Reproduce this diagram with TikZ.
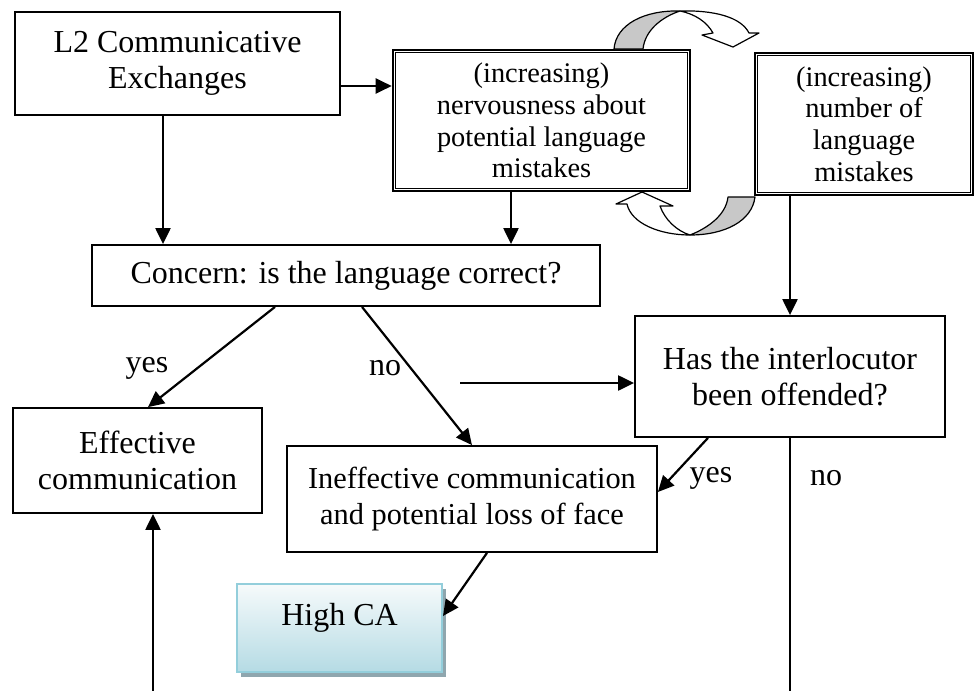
\documentclass[tikz,border=0pt]{standalone}
\usepackage{fontspec}
\setmainfont{Liberation Serif}
\usetikzlibrary{arrows.meta,shadows}
\definecolor{cgray}{HTML}{C8C8C8}
\definecolor{caTop}{HTML}{F6FAFB}
\definecolor{caBot}{HTML}{B5DBE4}
\definecolor{caEdge}{HTML}{93CEDB}
\definecolor{caShadow}{HTML}{8FA6AE}

\begin{document}
\begin{tikzpicture}[x=0.5pt,y=-0.5pt,
  big/.style={font=\fontsize{16}{18.3}\selectfont},
  mid/.style={font=\fontsize{15.2}{18.3}\selectfont},
  small/.style={font=\fontsize{14.2}{15.9}\selectfont},
  box/.style={draw, line width=0.9pt, align=center, inner sep=0pt, big},
  dblbox/.style={draw, line width=1.3pt, align=center, inner sep=0pt, small},
  innerline/.style={line width=0.5pt},
  arr/.style={line width=1.1pt, -{Triangle[length=8pt,width=7.5pt]}},
  plain/.style={line width=1.1pt},
  carrow/.style={line width=0.6pt, line join=round},
  lab/.style={big, inner sep=0pt},
  hcabox/.style={draw=caEdge, line width=1pt, top color=caTop, bottom color=caBot,
    drop shadow={shadow xshift=1.8pt, shadow yshift=-2.4pt, fill=caShadow, opacity=1},
    big, inner sep=0pt, text height=20.5pt, text depth=23.5pt}
]
\useasboundingbox (0,0) rectangle (976,691);

% boxes
\node[box, minimum width=162.5pt, minimum height=51.5pt] (l2) at (177.5,63.5)
  {L2 Communicative\\Exchanges};
\node[dblbox, minimum width=148.5pt, minimum height=70.5pt] (nerv) at (541.5,120.5)
  {(increasing)\\nervousness about\\potential language\\mistakes};
\node[dblbox, minimum width=109pt, minimum height=71pt] (num) at (864,124)
  {(increasing)\\number of\\language\\mistakes};
\foreach \n in {nerv,num}
  \draw[innerline] ([shift={(2.1pt,-2.1pt)}]\n.north west) rectangle ([shift={(-2.1pt,2.1pt)}]\n.south east);

\node[box, minimum width=254pt, minimum height=30.5pt] (con) at (346,275.5)
  {Concern: is the language correct?};
\node[box, minimum width=155pt, minimum height=60.5pt] (has) at (790,376.5)
  {Has the interlocutor\\been offended?};
\node[box, minimum width=124.5pt, minimum height=52.5pt] (eff) at (137.5,460.5)
  {Effective\\communication};
\node[box, mid, minimum width=185pt, minimum height=53pt] (ineff) at (472,499)
  {Ineffective communication\\and potential loss of face};
\node[hcabox, minimum width=102.5pt, minimum height=44pt] (hca) at (339.5,628) {High CA};

% branch labels
\node[lab] (y1) at (147,368) {yes};
\node[lab] (n1) at (385,368) {no};
\node[lab] (y2) at (711,478) {yes};
\node[lab] (n2) at (826,478) {no};

% free ends
\coordinate (h0) at (460,383);
\coordinate (b0) at (153,691);
\coordinate (b1) at (790,691);

% connectors
\draw[arr] (l2.east |- 0,86) -- (nerv.west |- 0,86);
\draw[arr] (l2.south -| 163,0) -- (con.north -| 163,0);
\draw[arr] (nerv.south -| 511,0) -- (con.north -| 511,0);
\draw[arr] (num.south -| 790,0) -- (has.north);
\draw[arr] (con.south -| 275,0) -- (eff.north -| 148,0);
\draw[arr] (con.south -| 362,0) -- (ineff.north);
\draw[arr] (h0) -- (has.west |- h0);
\draw[arr] (has.south -| 708,0) -- (ineff.east |- 0,492);
\draw[plain] (has.south) -- (b1);
\draw[arr] (ineff.south -| 487,0) -- (hca.east |- 0,616);
\draw[arr] (b0) -- (eff.south -| b0);

% curved block arrow over the top
\draw[carrow, fill=cgray] (614,49) .. controls (616,24) and (645,10) .. (680,11)
  .. controls (662,17) and (645,30) .. (643,49) -- cycle;
\draw[carrow, fill=white] (680,11) .. controls (714,10) and (741,17) .. (749,33)
  -- (759,33) -- (733,47) -- (702,35) -- (713,33)
  .. controls (707,22) and (695,14) .. (680,11) -- cycle;

% curved block arrow underneath
\draw[carrow, fill=cgray] (728,197) -- (755,197) .. controls (752,221) and (725,235) .. (690,235)
  .. controls (708,228) and (726,215) .. (728,197) -- cycle;
\draw[carrow, fill=white] (690,235) .. controls (659,235) and (631,223) .. (627,204)
  -- (616,204) -- (642,192) -- (673,206) -- (660,206)
  .. controls (665,220) and (677,231) .. (690,235) -- cycle;
\end{tikzpicture}
\end{document}
